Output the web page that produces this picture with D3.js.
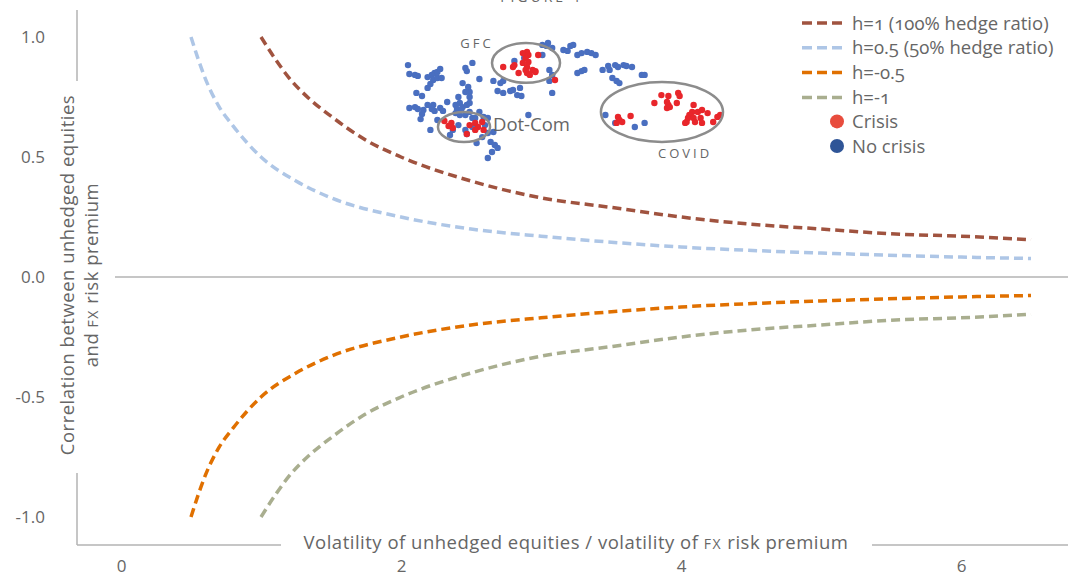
<!DOCTYPE html>
<html>
<head>
<meta charset="utf-8">
<script src="https://cdn.jsdelivr.net/npm/d3@7"></script>
<style>
  body { margin: 0; background: #fff; }
  svg { display: block; font-family: "Open Sans", Lato, sans-serif; }
  .onum { font-variant-numeric: oldstyle-nums; }
</style>
</head>
<body>
<div id="chart"></div>
<script>
// hedge-ratio curves
const h1X = [1.0, 1.1, 1.2, 1.35, 1.5, 1.75, 2.0, 2.5, 3.0, 3.5, 4.0, 4.5, 5.0, 5.5, 6.0, 6.5];
const h1Y = [1.00, 0.91, 0.83, 0.74, 0.67, 0.57, 0.50, 0.40, 0.33, 0.29, 0.25, 0.22, 0.20, 0.18, 0.17, 0.155];
const h05X = [0.5, 0.55, 0.6, 0.7, 0.8, 1.0, 1.25, 1.5, 2.0, 2.5, 3.0, 4.0, 5.0, 6.0, 6.5];
const h05Y = [1.00, 0.91, 0.83, 0.71, 0.63, 0.50, 0.40, 0.33, 0.25, 0.20, 0.17, 0.125, 0.10, 0.083, 0.077];
const hm05Y = h05Y.map(v => -v);
const hm1Y = h1Y.map(v => -v);

const curveNames = ["h=1 (100% hedge ratio)", "h=0.5 (50% hedge ratio)", "h=-0.5", "h=-1"];
const curveColors = ["#a0533f", "#aec6e6", "#e07000", "#a9ae8f"];

// no-crisis observations [ratio, correlation]
const noCrisis = [
  [2.05,0.883],[2.06,0.846],[2.10,0.842],[2.12,0.838],[2.19,0.833],[2.22,0.842],[2.24,0.850],[2.26,0.854],
  [2.28,0.867],[2.23,0.821],[2.26,0.829],[2.29,0.829],[2.19,0.788],[2.21,0.804],[2.46,0.871],[2.47,0.858],
  [2.51,0.892],[2.56,0.825],[2.44,0.808],[2.48,0.792],[2.49,0.771],[2.46,0.771],[2.11,0.767],[2.15,0.754],
  [2.33,0.729],[2.41,0.750],[2.49,0.750],[2.06,0.704],[2.10,0.708],[2.12,0.700],[2.16,0.696],[2.19,0.717],
  [2.23,0.717],[2.22,0.700],[2.24,0.692],[2.28,0.704],[2.30,0.692],[2.39,0.717],[2.42,0.725],[2.44,0.708],
  [2.47,0.717],[2.49,0.725],[2.40,0.700],[2.43,0.696],[2.15,0.679],[2.14,0.658],[2.26,0.654],[2.39,0.683],
  [2.42,0.675],[2.46,0.675],[2.49,0.688],[2.51,0.663],[2.53,0.663],[2.41,0.633],[2.37,0.613],[2.35,0.592],
  [2.46,0.613],[2.47,0.596],[2.59,0.667],[2.62,0.663],[2.60,0.633],[2.58,0.583],[2.62,0.600],[2.66,0.604],
  [2.64,0.563],[2.54,0.558],[2.67,0.550],[2.69,0.538],[2.65,0.521],[2.62,0.496],[2.21,0.613],[2.51,0.625],
  [2.56,0.688],[3.01,0.967],[3.04,0.963],[3.08,0.954],[3.05,0.975],[3.16,0.946],[3.19,0.942],[3.21,0.963],
  [3.23,0.967],[3.26,0.925],[3.29,0.933],[3.33,0.938],[3.36,0.933],[3.39,0.925],[3.26,0.850],[3.29,0.858],
  [3.31,0.863],[3.44,0.863],[3.48,0.879],[3.49,0.863],[3.53,0.883],[3.55,0.875],[3.59,0.883],[3.61,0.879],
  [3.65,0.875],[3.51,0.829],[3.54,0.817],[3.56,0.808],[3.72,0.842],[3.74,0.842],[3.06,0.863],[3.08,0.842],
  [3.06,0.817],[3.08,0.767],[2.91,0.675],[2.66,0.817],[2.71,0.808],[2.73,0.817],[2.69,0.775],[2.73,0.767],
  [2.78,0.775],[2.80,0.779],[2.85,0.788],[2.83,0.758],[2.86,0.754],[2.81,0.900],[2.88,0.913],[3.01,0.925],
  [3.46,0.675],[3.53,0.642],[3.67,0.625],[3.74,0.642]
];

// crisis observations [ratio, correlation]
const crisis = [
  [2.31,0.650],[2.36,0.642],[2.37,0.621],[2.47,0.596],[2.49,0.633],[2.53,0.642],[2.55,0.625],[2.58,0.646],
  [2.59,0.613],[2.53,0.613],[2.34,0.629],
  [2.90,0.938],[2.91,0.925],[2.89,0.913],[2.87,0.933],[2.87,0.892],[2.90,0.875],[2.94,0.863],[2.96,0.854],
  [2.98,0.925],[2.80,0.875],[2.73,0.875],[2.84,0.850],[2.90,0.850],[3.10,0.821],[2.91,0.896],[2.89,0.863],
  [2.92,0.842],[2.96,0.858],[2.81,0.883],
  [3.55,0.667],[3.56,0.654],[3.54,0.642],[3.58,0.646],[3.64,0.671],[3.81,0.725],[3.86,0.758],[3.91,0.754],
  [3.98,0.767],[3.99,0.754],[3.90,0.729],[3.91,0.717],[3.90,0.704],[3.92,0.708],[3.97,0.725],[4.09,0.717],
  [4.08,0.688],[4.06,0.675],[4.05,0.663],[4.04,0.646],[4.03,0.642],[4.09,0.663],[4.10,0.646],[4.12,0.688],
  [4.15,0.696],[4.14,0.663],[4.15,0.642],[4.19,0.683],[4.23,0.646],[4.26,0.667],[4.28,0.675]
];

// crisis episodes: centre, radii (data units) and label anchor
const episodes = ["GFC", "Dot-Com", "COVID"];
const episodeCentre = [[2.893, 0.892], [2.45, 0.625], [3.864, 0.6875]];
const episodeRadius = [[0.243, 0.083], [0.186, 0.0625], [0.436, 0.125]];
const episodeLabel = [[2.543, 0.954], [2.657, 0.608], [4.029, 0.496]];

const xTicks = [0, 2, 4, 6];
const yTicks = [-1, -0.5, 0, 0.5, 1];

function main() {
    const W = 1068, H = 576;
    const svg = d3.select("#chart").append("svg").attr("width", W).attr("height", H);
    const grey = "#666";
    const axisGrey = "#b3b3b3";

    const x = d3.scaleLinear().domain([0, 6]).range([121, 961]);
    const y = d3.scaleLinear().domain([-1, 1]).range([517, 37]);

    // clipped figure title at the very top
    svg.append("text").attr("x", 542).attr("y", 2).attr("text-anchor", "middle")
        .attr("font-size", 14).attr("letter-spacing", 3).attr("fill", grey).text("FIGURE 1");

    // axis lines, broken around the titles
    const axisLines = [[77, 10, 77, 81], [77, 473, 77, 545], [77, 545, 281, 545], [872, 545, 1068, 545], [115, y(0), 1068, y(0)]];
    svg.selectAll("line.ax").data(axisLines).enter().append("line").attr("class", "ax")
        .attr("x1", d => d[0]).attr("y1", d => d[1]).attr("x2", d => d[2]).attr("y2", d => d[3])
        .attr("stroke", axisGrey).attr("stroke-width", 1.5);

    const xAxis = svg.append("g").attr("transform", "translate(0,557)")
        .call(d3.axisBottom(x).tickValues(xTicks).tickSize(0).tickFormat(d3.format("d")));
    xAxis.select(".domain").remove();
    xAxis.selectAll("text").attr("font-size", 17).attr("fill", grey).attr("font-family", "Open Sans, sans-serif");

    const yAxis = svg.append("g").attr("transform", "translate(48,0)")
        .call(d3.axisLeft(y).tickValues(yTicks).tickSize(0).tickFormat(d => d.toFixed(1)));
    yAxis.select(".domain").remove();
    yAxis.selectAll("text").attr("font-size", 17).attr("fill", grey).attr("font-family", "Open Sans, sans-serif");

    // axis titles
    const xt = svg.append("text").attr("x", 576).attr("y", 549).attr("text-anchor", "middle")
        .attr("font-size", 18.5).attr("letter-spacing", 0.5).attr("fill", grey);
    xt.append("tspan").text("Volatility of unhedged equities / volatility of ");
    xt.append("tspan").attr("font-size", 14).attr("letter-spacing", 1.5).text("FX");
    xt.append("tspan").text(" risk premium");

    const yt = svg.append("g").attr("transform", "translate(74,275) rotate(-90)");
    yt.append("text").attr("text-anchor", "middle").attr("font-size", 18.5).attr("letter-spacing", 0.5).attr("fill", grey)
        .text("Correlation between unhedged equities");
    const yt2 = yt.append("text").attr("y", 24).attr("text-anchor", "middle").attr("font-size", 18.5)
        .attr("letter-spacing", 0.5).attr("fill", grey);
    yt2.append("tspan").text("and ");
    yt2.append("tspan").attr("font-size", 14).attr("letter-spacing", 1.5).text("FX");
    yt2.append("tspan").text(" risk premium");

    // curves
    const curves = [
        d3.zip(h1X, h1Y), d3.zip(h05X, h05Y), d3.zip(h05X, hm05Y), d3.zip(h1X, hm1Y)
    ];
    const line = d3.line().x(d => x(d[0])).y(d => y(d[1])).curve(d3.curveMonotoneX);
    svg.selectAll("path.curve").data(curves).enter().append("path").attr("class", "curve")
        .attr("d", line).attr("fill", "none")
        .attr("stroke", (d, i) => curveColors[i]).attr("stroke-width", 3.5)
        .attr("stroke-dasharray", "9,5");

    // observations
    svg.selectAll("circle.nc").data(noCrisis).enter().append("circle").attr("class", "nc")
        .attr("cx", d => x(d[0])).attr("cy", d => y(d[1])).attr("r", 3.2).attr("fill", "#4a6fc0");
    svg.selectAll("circle.cr").data(crisis).enter().append("circle").attr("class", "cr")
        .attr("cx", d => x(d[0])).attr("cy", d => y(d[1])).attr("r", 3.2).attr("fill", "#e8262b");

    // episode ellipses and labels
    const ep = svg.selectAll("g.ep").data(episodes).enter().append("g").attr("class", "ep");
    ep.append("ellipse")
        .attr("cx", (d, i) => x(episodeCentre[i][0])).attr("cy", (d, i) => y(episodeCentre[i][1]))
        .attr("rx", (d, i) => x(episodeRadius[i][0]) - x(0)).attr("ry", (d, i) => y(0) - y(episodeRadius[i][1]))
        .attr("fill", "none").attr("stroke", "#8c8c8c").attr("stroke-width", 2.5);
    ep.append("text")
        .attr("x", (d, i) => x(episodeLabel[i][0])).attr("y", (d, i) => y(episodeLabel[i][1]))
        .attr("text-anchor", d => d == "Dot-Com" ? "start" : "middle")
        .attr("font-size", d => d == "Dot-Com" ? 18.5 : 13)
        .attr("letter-spacing", d => d == "Dot-Com" ? 0 : 3)
        .attr("fill", grey)
        .text(d => d);

    // legend
    const lg = svg.append("g").attr("transform", "translate(802,23)");
    curveNames.forEach((name, i) => {
        const row = lg.append("g").attr("transform", `translate(0,${i * 24.8})`);
        row.append("line").attr("x1", 0).attr("x2", 42).attr("y1", 0).attr("y2", 0)
            .attr("stroke", curveColors[i]).attr("stroke-width", 3.5).attr("stroke-dasharray", "10,5");
        row.append("text").attr("class", "onum").attr("x", 50).attr("y", 6.5)
            .attr("font-size", 18.5).attr("fill", grey).text(name);
    });
    const dotLegend = [["Crisis", "#e84c3d"], ["No crisis", "#2f5597"]];
    dotLegend.forEach((d, i) => {
        const row = lg.append("g").attr("transform", `translate(0,${(i + 4) * 24.6})`);
        row.append("circle").attr("cx", 35).attr("cy", 0).attr("r", 7).attr("fill", d[1]);
        row.append("text").attr("x", 50).attr("y", 6.5).attr("font-size", 18.5).attr("fill", grey).text(d[0]);
    });
}

main();
</script>
</body>
</html>
